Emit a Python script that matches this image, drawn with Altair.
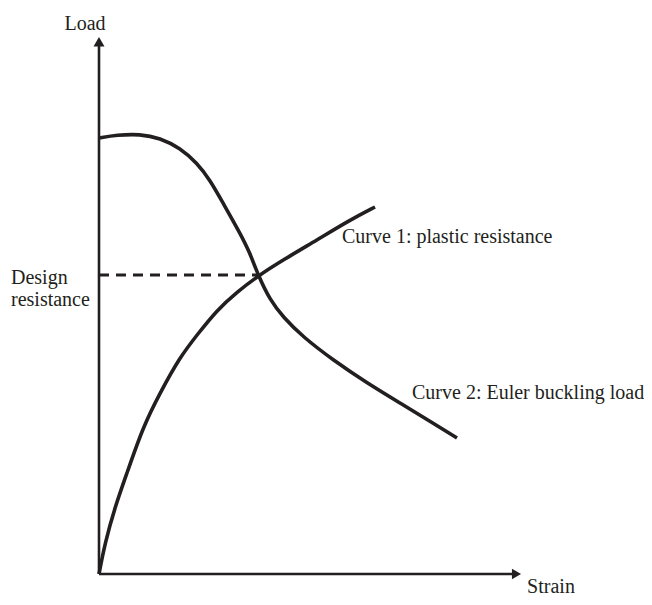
import altair as alt
import pandas as pd

# Curve 1: plastic resistance (rising curve)
curve1_strain = [0, 6, 16, 28, 44, 61, 81, 98, 118, 138, 159, 184, 218, 251, 276]
curve1_load = [0, 31, 67, 101, 147, 181, 217, 239, 264, 282, 298, 314, 334, 354, 367]

# Curve 2: Euler buckling load (falling curve)
curve2_strain = [0, 18, 41, 61, 81, 98, 111, 124, 141, 151, 159, 171, 184, 204, 234, 268, 301, 334, 358]
curve2_load = [436, 439, 440, 436, 426, 411, 394, 371, 341, 321, 299, 274, 257, 237, 214, 191, 171, 151, 136]

# Design resistance (intersection)
design_strain = 159
design_load = 299

# Axis extents
axis_strain_max = 422
axis_load_max = 537

# Labels
center_texts = ["Load", "Strain"]
center_x = [-14, 452]
center_y = [550, -23]

left_texts = ["Design", "resistance", "Curve 1: plastic resistance", "Curve 2: Euler buckling load"]
left_x = [-88, -88, 243, 313]
left_y = [296, 274, 337, 181]

INK = "#231f20"
FONT = "Liberation Serif"

xs = alt.Scale(domain=[-91, 545], nice=False, zero=False)
ys = alt.Scale(domain=[-23, 566], nice=False, zero=False)

c1 = pd.DataFrame({"strain": curve1_strain, "load": curve1_load})
c2 = pd.DataFrame({"strain": curve2_strain, "load": curve2_load})

line1 = alt.Chart(c1).mark_line(interpolate="basis", strokeWidth=3.6, color=INK).encode(
    x=alt.X("strain:Q", scale=xs, axis=None),
    y=alt.Y("load:Q", scale=ys, axis=None),
)
line2 = alt.Chart(c2).mark_line(interpolate="basis", strokeWidth=3.6, color=INK).encode(
    x=alt.X("strain:Q", scale=xs, axis=None),
    y=alt.Y("load:Q", scale=ys, axis=None),
)

dash_df = pd.DataFrame({"x": [0], "x2": [design_strain], "y": [design_load]})
dash = alt.Chart(dash_df).mark_rule(strokeWidth=3, strokeDash=[10, 7], color=INK).encode(
    x=alt.X("x:Q", scale=xs, axis=None),
    x2="x2:Q",
    y=alt.Y("y:Q", scale=ys, axis=None),
)

axes_df = pd.DataFrame({
    "x": [0, 0],
    "x2": [axis_strain_max - 6, 0],
    "y": [0, 0],
    "y2": [0, axis_load_max - 6],
})
axes = alt.Chart(axes_df).mark_rule(strokeWidth=2.6, color=INK).encode(
    x=alt.X("x:Q", scale=xs, axis=None),
    x2="x2:Q",
    y=alt.Y("y:Q", scale=ys, axis=None),
    y2="y2:Q",
)

arrow_up = alt.Chart(pd.DataFrame({"x": [0], "y": [axis_load_max - 4.8]})).mark_point(
    shape="triangle-up", size=121, filled=True, color=INK, opacity=1
).encode(x=alt.X("x:Q", scale=xs, axis=None), y=alt.Y("y:Q", scale=ys, axis=None))

arrow_right = alt.Chart(pd.DataFrame({"x": [axis_strain_max - 4.5], "y": [0]})).mark_point(
    shape="triangle-right", size=110, filled=True, color=INK, opacity=1
).encode(x=alt.X("x:Q", scale=xs, axis=None), y=alt.Y("y:Q", scale=ys, axis=None))

load_lbl = alt.Chart(pd.DataFrame({"t": [center_texts[0]], "x": [center_x[0]], "y": [center_y[0]]})).mark_text(
    font=FONT, fontSize=20, color=INK, align="center", baseline="middle"
).encode(x=alt.X("x:Q", scale=xs, axis=None), y=alt.Y("y:Q", scale=ys, axis=None), text="t:N")

strain_lbl = alt.Chart(pd.DataFrame({"t": [center_texts[1]], "x": [center_x[1]], "y": [center_y[1]]})).mark_text(
    font=FONT, fontSize=20, color=INK, align="center", baseline="bottom"
).encode(x=alt.X("x:Q", scale=xs, axis=None), y=alt.Y("y:Q", scale=ys, axis=None), text="t:N")

left_lbl = alt.Chart(pd.DataFrame({"t": left_texts, "x": left_x, "y": left_y})).mark_text(
    font=FONT, fontSize=20, color=INK, align="left", baseline="middle"
).encode(x=alt.X("x:Q", scale=xs, axis=None), y=alt.Y("y:Q", scale=ys, axis=None), text="t:N")

chart = alt.layer(
    axes, arrow_up, arrow_right, dash, line1, line2, load_lbl, strain_lbl, left_lbl
).properties(
    width=636, height=589, padding=0, background="white",
    autosize=alt.AutoSizeParams(type="none")
).configure_view(stroke=None, strokeWidth=0)

chart.save("out.html", embed_options={"renderer": "svg", "actions": False})
